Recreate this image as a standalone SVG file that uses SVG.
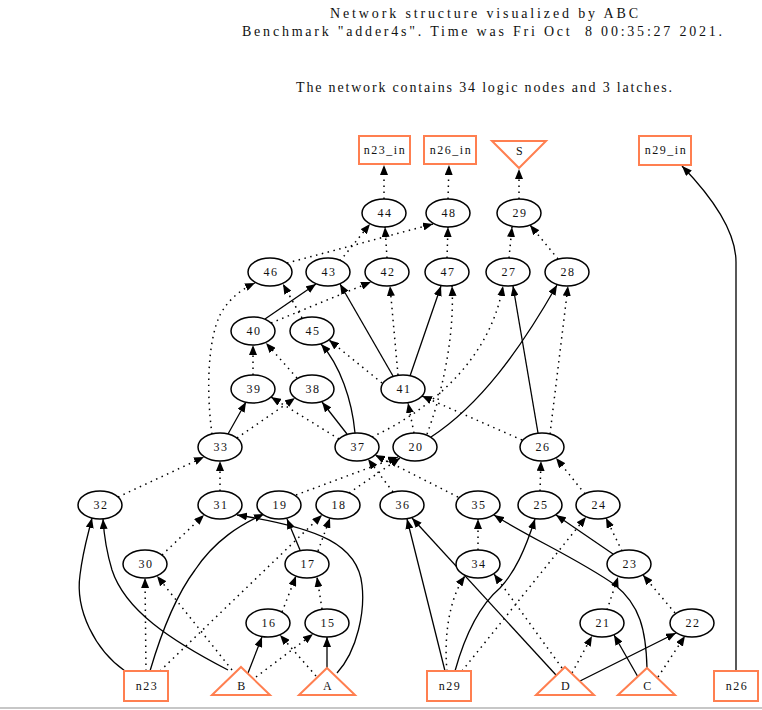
<svg xmlns="http://www.w3.org/2000/svg" width="762" height="710" viewBox="0 0 762 710">
<style>
.t{font-family:"Liberation Serif","Times New Roman",serif;fill:#111}
.h{font-size:14px}
.l{font-size:12px;letter-spacing:1.5px;text-anchor:middle}
.n ellipse{fill:#fff;stroke:#000;stroke-width:1.5}
.p rect,.p polygon{fill:#fff;stroke:#ff7f50;stroke-width:2}
#edges path{fill:none;stroke:#000;stroke-width:1.3;marker-end:url(#ah)}
#edges path.d{stroke-width:1.5;stroke-dasharray:1.5 4.5}
</style>
<defs>
<marker id="ah" markerUnits="userSpaceOnUse" markerWidth="11" markerHeight="8" refX="10" refY="4" orient="auto">
<path d="M0,0 L10,4 L0,8 z" fill="#000"/>
</marker>
</defs>
<rect width="762" height="710" fill="#fff"/>
<line x1="0" y1="708" x2="762" y2="708" stroke="#b4b4b4" stroke-width="1.5"/>
<g id="title">
<text class="t h" x="330" y="18" textLength="308" lengthAdjust="spacing">Network structure visualized by ABC</text>
<text class="t h" x="242" y="36" textLength="480" lengthAdjust="spacing" xml:space="preserve">Benchmark "adder4s". Time was Fri Oct  8 00:35:27 2021.</text>
<text class="t h" x="296" y="92" textLength="376" lengthAdjust="spacing">The network contains 34 logic nodes and 3 latches.</text>
</g>
<g id="edges">
<path class="d" d="M384,199 L384,165"/>
<path class="d" d="M448,199 L449,165"/>
<path class="d" d="M519,199 L519,169"/>
<path d="M736,671 L736,262 C736,230 710,195 682,166"/>
<path class="d" d="M387,258 L385,227"/>
<path class="d" d="M340,261 L370,224"/>
<path class="d" d="M287,263 L433,224"/>
<path class="d" d="M447,258 L448,227"/>
<path class="d" d="M509,258 L512,227"/>
<path class="d" d="M558,259 L530,225"/>
<path d="M265,319 L316,284"/>
<path class="d" d="M271,323 L371,282"/>
<path class="d" d="M212,434 C206,390 208,340 220,315 C228,300 240,290 255,283"/>
<path class="d" d="M302,318 L283,284"/>
<path class="d" d="M253,375 L253,345"/>
<path class="d" d="M297,378 L266,343"/>
<path d="M393,376 L340,284"/>
<path class="d" d="M398,375 L390,286"/>
<path d="M410,376 L441,286"/>
<path class="d" d="M427,434 C440,400 455,340 452,286"/>
<path class="d" d="M372,437 C430,410 490,360 503,286"/>
<path d="M538,433 L513,286"/>
<path d="M431,437 C480,405 520,350 557,285"/>
<path class="d" d="M550,434 L568,286"/>
<path class="d" d="M382,383 L329,340"/>
<path d="M355,433 C352,400 340,365 321,344"/>
<path d="M228,434 L246,402"/>
<path class="d" d="M339,439 L271,397"/>
<path class="d" d="M237,438 L295,398"/>
<path d="M347,434 L322,402"/>
<path class="d" d="M414,433 L408,403"/>
<path class="d" d="M522,440 L422,396"/>
<path class="d" d="M118,497 L204,457"/>
<path class="d" d="M220,491 L220,461"/>
<path class="d" d="M393,492 L368,459"/>
<path class="d" d="M458,497 L375,455"/>
<path class="d" d="M296,495 L398,457"/>
<path class="d" d="M349,493 L400,458"/>
<path class="d" d="M540,491 L541,461"/>
<path class="d" d="M585,494 L556,458"/>
<path d="M125,671 C95,650 75,610 80,575 C83,550 88,535 92,518"/>
<path d="M228,670 C170,640 125,610 112,570 C106,550 104,535 103,519"/>
<path d="M150,671 C165,620 180,590 195,570 C215,540 240,525 264,514"/>
<path d="M300,550 L287,519"/>
<path class="d" d="M160,671 L322,515"/>
<path class="d" d="M318,551 L330,518"/>
<path d="M337,673 C358,650 365,610 362,585 C358,545 320,528 237,515"/>
<path class="d" d="M162,555 L204,515"/>
<path d="M445,671 L407,519"/>
<path d="M556,675 L412,518"/>
<path d="M455,671 C465,635 480,605 500,588 C515,572 525,550 535,519"/>
<path class="d" d="M462,671 L586,517"/>
<path class="d" d="M447,671 C444,640 448,600 465,576"/>
<path class="d" d="M562,668 L494,574"/>
<path class="d" d="M478,550 L478,519"/>
<path d="M647,668 C646,630 640,605 615,585 C580,560 530,538 494,515"/>
<path d="M613,554 L556,515"/>
<path class="d" d="M622,551 L606,518"/>
<path class="d" d="M607,610 L618,577"/>
<path class="d" d="M675,613 L643,575"/>
<path class="d" d="M146,671 L145,578"/>
<path class="d" d="M232,670 L157,576"/>
<path class="d" d="M282,612 L296,576"/>
<path class="d" d="M322,609 L317,577"/>
<path d="M248,673 L262,637"/>
<path class="d" d="M316,676 L280,635"/>
<path class="d" d="M256,677 L313,634"/>
<path d="M327,668 L327,637"/>
<path class="d" d="M572,673 L592,636"/>
<path d="M638,677 L614,635"/>
<path d="M580,681 L676,633"/>
<path class="d" d="M658,677 L685,636"/>
</g>
<g id="n23_in" class="p"><rect x="359" y="136" width="51" height="28"/><text class="t l" x="385" y="154">n23_in</text></g>
<g id="n26_in" class="p"><rect x="424" y="136" width="52" height="28"/><text class="t l" x="451" y="154">n26_in</text></g>
<g id="S" class="p"><polygon points="492,141 546,141 519,168"/><text class="t l" x="520" y="155">S</text></g>
<g id="n29_in" class="p"><rect x="639" y="136" width="52" height="29"/><text class="t l" x="666" y="154">n29_in</text></g>
<g id="node44" class="n"><ellipse cx="384" cy="213" rx="22" ry="14"/><text class="t l" x="385" y="217">44</text></g>
<g id="node48" class="n"><ellipse cx="448" cy="213" rx="22" ry="14"/><text class="t l" x="449" y="217">48</text></g>
<g id="node29" class="n"><ellipse cx="519" cy="213" rx="22" ry="14"/><text class="t l" x="520" y="217">29</text></g>
<g id="node46" class="n"><ellipse cx="270" cy="272" rx="22" ry="14"/><text class="t l" x="271" y="276">46</text></g>
<g id="node43" class="n"><ellipse cx="328" cy="272" rx="22" ry="14"/><text class="t l" x="329" y="276">43</text></g>
<g id="node42" class="n"><ellipse cx="387" cy="272" rx="22" ry="14"/><text class="t l" x="388" y="276">42</text></g>
<g id="node47" class="n"><ellipse cx="447" cy="272" rx="22" ry="14"/><text class="t l" x="448" y="276">47</text></g>
<g id="node27" class="n"><ellipse cx="508" cy="272" rx="22" ry="14"/><text class="t l" x="509" y="276">27</text></g>
<g id="node28" class="n"><ellipse cx="567" cy="272" rx="22" ry="14"/><text class="t l" x="568" y="276">28</text></g>
<g id="node40" class="n"><ellipse cx="253" cy="331" rx="22" ry="14"/><text class="t l" x="254" y="335">40</text></g>
<g id="node45" class="n"><ellipse cx="312" cy="331" rx="22" ry="14"/><text class="t l" x="313" y="335">45</text></g>
<g id="node39" class="n"><ellipse cx="253" cy="389" rx="22" ry="14"/><text class="t l" x="254" y="393">39</text></g>
<g id="node38" class="n"><ellipse cx="312" cy="389" rx="22" ry="14"/><text class="t l" x="313" y="393">38</text></g>
<g id="node41" class="n"><ellipse cx="403" cy="389" rx="22" ry="14"/><text class="t l" x="404" y="393">41</text></g>
<g id="node33" class="n"><ellipse cx="220" cy="447" rx="22" ry="14"/><text class="t l" x="221" y="451">33</text></g>
<g id="node37" class="n"><ellipse cx="357" cy="447" rx="22" ry="14"/><text class="t l" x="358" y="451">37</text></g>
<g id="node20" class="n"><ellipse cx="415" cy="447" rx="22" ry="14"/><text class="t l" x="416" y="451">20</text></g>
<g id="node26" class="n"><ellipse cx="542" cy="447" rx="22" ry="14"/><text class="t l" x="543" y="451">26</text></g>
<g id="node32" class="n"><ellipse cx="100" cy="505" rx="22" ry="14"/><text class="t l" x="101" y="509">32</text></g>
<g id="node31" class="n"><ellipse cx="220" cy="505" rx="22" ry="14"/><text class="t l" x="221" y="509">31</text></g>
<g id="node19" class="n"><ellipse cx="279" cy="505" rx="22" ry="14"/><text class="t l" x="280" y="509">19</text></g>
<g id="node18" class="n"><ellipse cx="338" cy="505" rx="22" ry="14"/><text class="t l" x="339" y="509">18</text></g>
<g id="node36" class="n"><ellipse cx="402" cy="505" rx="22" ry="14"/><text class="t l" x="403" y="509">36</text></g>
<g id="node35" class="n"><ellipse cx="478" cy="505" rx="22" ry="14"/><text class="t l" x="479" y="509">35</text></g>
<g id="node25" class="n"><ellipse cx="540" cy="505" rx="22" ry="14"/><text class="t l" x="541" y="509">25</text></g>
<g id="node24" class="n"><ellipse cx="598" cy="505" rx="22" ry="14"/><text class="t l" x="599" y="509">24</text></g>
<g id="node30" class="n"><ellipse cx="145" cy="564" rx="22" ry="14"/><text class="t l" x="146" y="568">30</text></g>
<g id="node17" class="n"><ellipse cx="307" cy="564" rx="22" ry="14"/><text class="t l" x="308" y="568">17</text></g>
<g id="node34" class="n"><ellipse cx="478" cy="564" rx="22" ry="14"/><text class="t l" x="479" y="568">34</text></g>
<g id="node23" class="n"><ellipse cx="629" cy="564" rx="22" ry="14"/><text class="t l" x="630" y="568">23</text></g>
<g id="node16" class="n"><ellipse cx="268" cy="623" rx="22" ry="14"/><text class="t l" x="269" y="627">16</text></g>
<g id="node15" class="n"><ellipse cx="327" cy="623" rx="22" ry="14"/><text class="t l" x="328" y="627">15</text></g>
<g id="node21" class="n"><ellipse cx="602" cy="623" rx="22" ry="14"/><text class="t l" x="603" y="627">21</text></g>
<g id="node22" class="n"><ellipse cx="692" cy="623" rx="22" ry="14"/><text class="t l" x="693" y="627">22</text></g>
<g id="n23" class="p"><rect x="124" y="671" width="44" height="30"/><text class="t l" x="147" y="690">n23</text></g>
<g id="B" class="p"><polygon points="241,667 270,695 212,695"/><text class="t l" x="242" y="690">B</text></g>
<g id="A" class="p"><polygon points="327,668 355,695 299,695"/><text class="t l" x="328" y="690">A</text></g>
<g id="n29" class="p"><rect x="427" y="671" width="44" height="30"/><text class="t l" x="450" y="690">n29</text></g>
<g id="D" class="p"><polygon points="565,667 594,695 536,695"/><text class="t l" x="566" y="690">D</text></g>
<g id="C" class="p"><polygon points="647,668 675,695 618,695"/><text class="t l" x="648" y="690">C</text></g>
<g id="n26" class="p"><rect x="714" y="671" width="44" height="30"/><text class="t l" x="737" y="690">n26</text></g>
</svg>
